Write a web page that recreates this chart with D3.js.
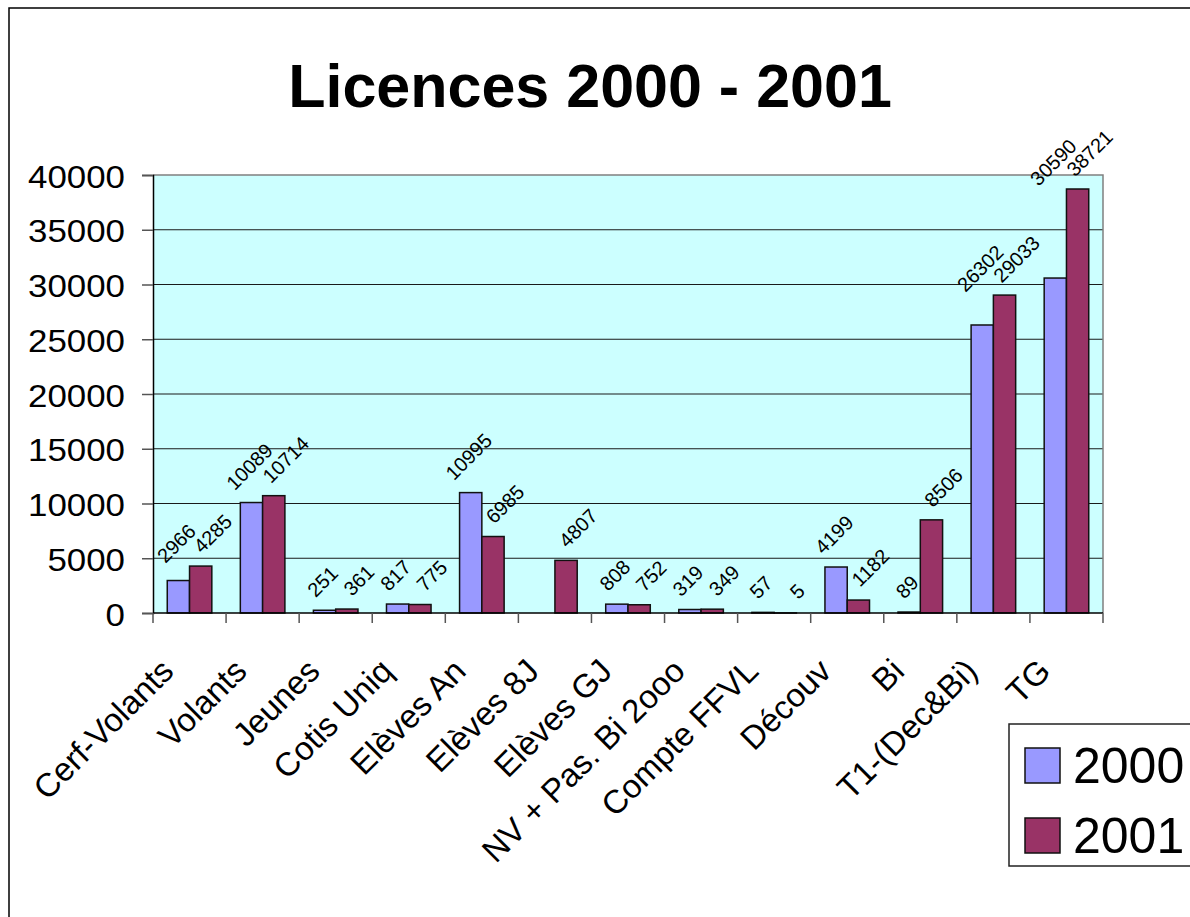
<!DOCTYPE html>
<html lang="fr">
<head>
  <meta charset="UTF-8">
  <title>Licences 2000 - 2001</title>
  <script src="https://d3js.org/d3.v7.min.js"></script>
  <style>
    body {
      margin: 0;
      padding: 0;
      background: #fff;
      font-family: "Liberation Sans", Arial, sans-serif;
    }
    svg text { fill: #000; }
  </style>
</head>
<body>
  <div id="chart"></div>

  <script>
    const categories = [
      "Cerf-Volants", "Volants", "Jeunes", "Cotis Uniq", "Elèves An", "Elèves 8J",
      "Elèves GJ", "NV + Pas. Bi 2ooo", "Compte FFVL", "Découv", "Bi",
      "T1-(Dec&Bi)", "TG"
    ];
    const series = ["2000", "2001"];
    const values2000 = [2966, 10089, 251, 817, 10995, null, 808, 319, 57, 4199, 89, 26302, 30590];
    const values2001 = [4285, 10714, 361, 775, 6985, 4807, 752, 349, 5, 1182, 8506, 29033, 38721];
    const yTicks = [0, 5000, 10000, 15000, 20000, 25000, 30000, 35000, 40000];

    const colors = { "2000": "#9999ff", "2001": "#993366" };

    const W = 1190, H = 917;
    const margin = { top: 175, left: 153 };
    const width = 950, height = 438;
    const labelSize = 20;
    const stretch = 1.09;

    const svg = d3.select("#chart")
      .append("svg")
      .attr("width", W)
      .attr("height", H);

    // outer frame (runs off the picture on the right and bottom)
    svg.append("rect")
      .attr("x", 9).attr("y", 8)
      .attr("width", 1300).attr("height", 1000)
      .attr("fill", "none")
      .attr("stroke", "#000")
      .attr("stroke-width", 1.5);

    svg.append("text")
      .attr("x", 590)
      .attr("y", 107)
      .attr("text-anchor", "middle")
      .style("font-size", "61px")
      .style("font-weight", "bold")
      .text("Licences 2000 - 2001");

    const g = svg.append("g")
      .attr("transform", `translate(${margin.left},${margin.top})`);

    const x0 = d3.scaleBand()
      .domain(categories)
      .range([0, width])
      .padding(0);

    const x1 = d3.scaleBand()
      .domain(series)
      .range([0, x0.bandwidth()])
      .paddingInner(0)
      .paddingOuter(0.64);

    const y = d3.scaleLinear()
      .domain([0, 40000])
      .range([height, 0]);

    // plot background
    g.append("rect")
      .attr("width", width)
      .attr("height", height)
      .attr("fill", "#ccffff");

    // gridlines
    g.append("g")
      .selectAll("line")
      .data(yTicks.slice(1, -1))
      .join("line")
      .attr("x1", 0).attr("x2", width)
      .attr("y1", d => y(d)).attr("y2", d => y(d))
      .attr("stroke", "#1a1a1a")
      .attr("stroke-width", 1.2);

    // top and right border of plot
    g.append("path")
      .attr("d", `M0,0H${width}V${height}`)
      .attr("fill", "none")
      .attr("stroke", "#808080")
      .attr("stroke-width", 1.5);

    // y axis
    const yAxis = g.append("g")
      .call(d3.axisLeft(y).tickValues(yTicks).tickFormat(d3.format("d")).tickSize(11).tickPadding(17));
    yAxis.select(".domain").attr("stroke", "#000").attr("stroke-width", 1.5);
    yAxis.selectAll(".tick line").attr("stroke", "#555").attr("stroke-width", 1.5);
    yAxis.selectAll(".tick text")
      .attr("x", -28 / stretch)
      .attr("dy", "0.38em")
      .attr("transform", `scale(${stretch},1)`)
      .style("font-size", "32px")
      .style("font-family", "'Liberation Sans', Arial, sans-serif");

    // bars
    const rows = categories.map((c, i) => ({
      cat: c,
      vals: [
        { s: "2000", v: values2000[i] },
        { s: "2001", v: values2001[i] }
      ].filter(d => d.v != null)
    }));

    const groups = g.append("g")
      .selectAll("g")
      .data(rows)
      .join("g")
      .attr("transform", d => `translate(${x0(d.cat)},0)`);

    groups.selectAll("rect")
      .data(d => d.vals)
      .join("rect")
      .attr("x", d => x1(d.s))
      .attr("y", d => y(d.v))
      .attr("width", x1.bandwidth())
      .attr("height", d => y(0) - y(d.v))
      .attr("fill", d => colors[d.s])
      .attr("stroke", "#111")
      .attr("stroke-width", 1.5);

    // value label placement: above each bar, rotated -45deg,
    // nudged up when it would run into the neighbour bar or label
    const k = Math.SQRT1_2;
    const txtLen = d => String(d.v).length * 0.556 * labelSize;
    const txtH = 0.716 * labelSize;
    rows.forEach(r => {
      r.vals.forEach(d => {
        d.cx = x1(d.s) + x1.bandwidth() / 2 + (d.s === "2000" ? -2 : 12);
        d.cy = y(d.v) - (18 + String(d.v).length * 3.6);
        d.e = (txtLen(d) / 2 + txtH / 2) * k;
      });
      if (r.vals.length === 2) {
        const [a, b] = r.vals;
        const bx = x1(b.s);
        if (a.cx + a.e > bx && a.cy + a.e > y(b.v)) {
          a.cy = y(b.v) - 2 - a.e;
        }
        const dx = b.cx - a.cx, dy = b.cy - a.cy;
        const u = (dx - dy) * k, v = (-dx - dy) * k;
        const needU = (txtLen(a) + txtLen(b)) / 2 + 4;
        if (u < needU && Math.abs(v) < txtH + 2) {
          b.cy -= needU / k - (dx - dy);
        }
      }
    });

    groups.selectAll("text")
      .data(d => d.vals)
      .join("text")
      .attr("transform", d => `translate(${d.cx},${d.cy}) rotate(-45)`)
      .attr("text-anchor", "middle")
      .attr("dy", "0.35em")
      .style("font-size", labelSize + "px")
      .text(d => d.v);

    // x axis
    const xAxis = g.append("g")
      .attr("transform", `translate(0,${height})`);
    xAxis.append("line")
      .attr("x1", 0).attr("x2", width)
      .attr("stroke", "#000")
      .attr("stroke-width", 1.5);
    xAxis.selectAll(".xtick")
      .data(categories.concat([null]))
      .join("line")
      .attr("class", "xtick")
      .attr("x1", d => d == null ? width : x0(d))
      .attr("x2", d => d == null ? width : x0(d))
      .attr("y1", 0).attr("y2", 10)
      .attr("stroke", "#555")
      .attr("stroke-width", 1.5);
    xAxis.selectAll(".xlabel")
      .data(categories)
      .join("text")
      .attr("class", "xlabel")
      .attr("transform", d => `translate(${x0(d) + x0.bandwidth() / 2 - 14},60) rotate(-45)`)
      .attr("text-anchor", "end")
      .style("font-size", "33px")
      .text(d => d);

    // legend (runs off the right edge like the original)
    const legend = svg.append("g").attr("transform", "translate(1009,724)");
    legend.append("rect")
      .attr("width", 240).attr("height", 142)
      .attr("fill", "#fff")
      .attr("stroke", "#222")
      .attr("stroke-width", 1.5);
    const items = legend.selectAll(".item")
      .data(series)
      .join("g")
      .attr("class", "item")
      .attr("transform", (d, i) => `translate(16,${24 + i * 70})`);
    items.append("rect")
      .attr("width", 35).attr("height", 35)
      .attr("fill", d => colors[d])
      .attr("stroke", "#111")
      .attr("stroke-width", 1.5);
    items.append("text")
      .attr("x", 48)
      .attr("y", 35)
      .style("font-size", "50px")
      .text(d => d);
  </script>
</body>
</html>
